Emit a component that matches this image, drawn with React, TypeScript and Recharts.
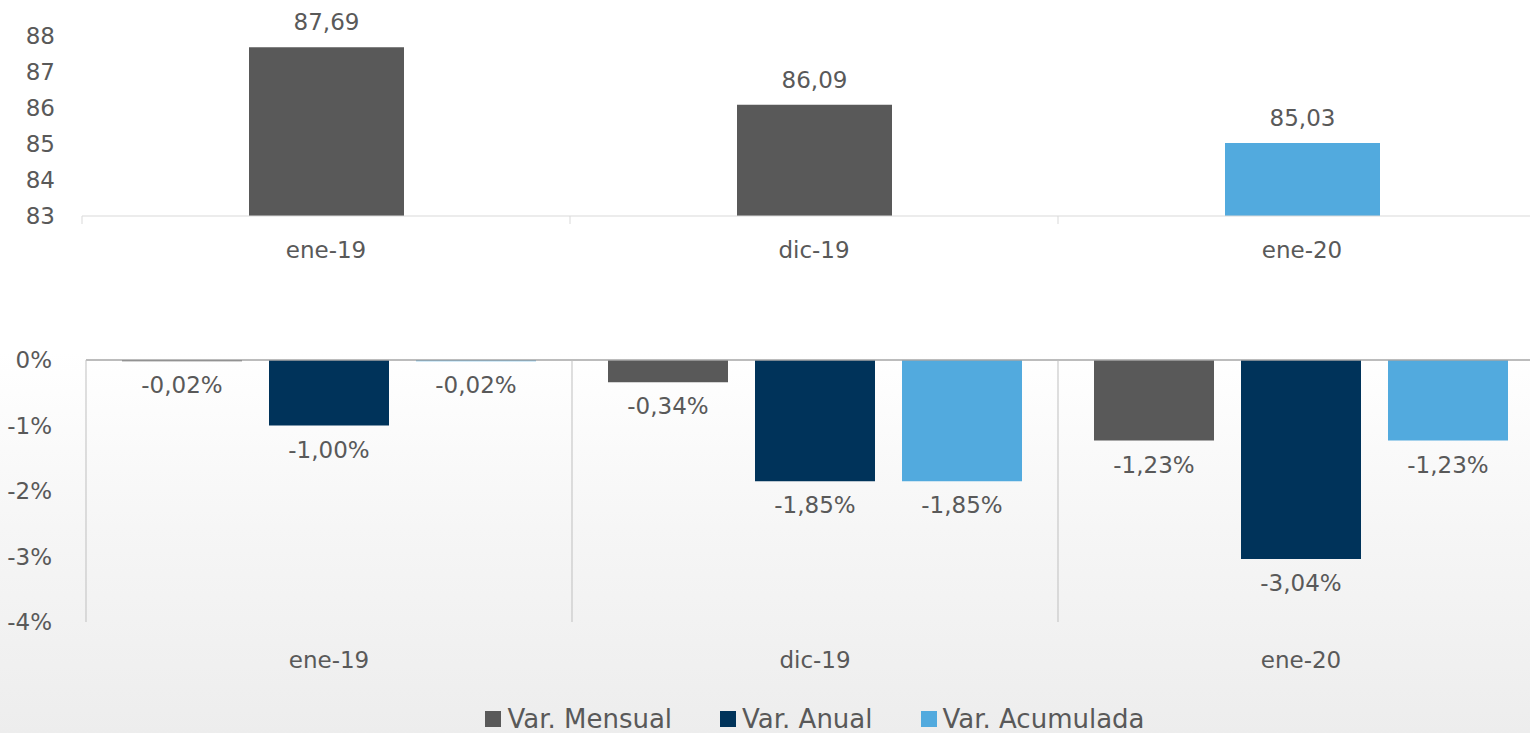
import React from "react";
import {
  BarChart,
  Bar,
  XAxis,
  YAxis,
  Cell,
  LabelList,
  Legend,
  ReferenceLine,
} from "recharts";

const months = ["ene-19", "dic-19", "ene-20"];
const indexValues = [87.69, 86.09, 85.03];
const indexTicks = [83, 84, 85, 86, 87, 88];

const varMensual = [-0.02, -0.34, -1.23];
const varAnual = [-1.0, -1.85, -3.04];
const varAcumulada = [-0.02, -1.85, -1.23];
const pctTicks = [0, -1, -2, -3, -4];

const GRAY = "#595959";
const NAVY = "#00335A";
const LIGHT = "#52AADE";
const TEXT = "#595959";
const FONT = "'DejaVu Sans', sans-serif";
const FS = 23;

const indexColors = [GRAY, GRAY, LIGHT];

const topData = months.map((m, i) => ({ month: m, value: indexValues[i] }));
const bottomData = months.map((m, i) => ({
  month: m,
  mensual: varMensual[i],
  anual: varAnual[i],
  acumulada: varAcumulada[i],
}));

const series = [
  { key: "mensual", name: "Var. Mensual", color: GRAY },
  { key: "anual", name: "Var. Anual", color: NAVY },
  { key: "acumulada", name: "Var. Acumulada", color: LIGHT },
];

const fmt = (v: number, digits: number) => v.toFixed(digits).replace(".", ",");

// chart sizes
const CHART_W = 1560;
const TOP_H = 280;
const TOP_MARGIN = { top: 36, right: 14, left: 0, bottom: 24 };
const TOP_HALF = (CHART_W - 82 - TOP_MARGIN.right) / months.length / 2;

const BOT_H = 453;
const BOT_MARGIN = { top: 80, right: 16, left: 0, bottom: 61 };
const BOT_PLOT_H = BOT_H - BOT_MARGIN.top - BOT_MARGIN.bottom - 50;
const BOT_HALF = (CHART_W - 86 - BOT_MARGIN.right) / months.length / 2;

function TopTick(props: any) {
  const { x, y, payload, index } = props;
  return (
    <g>
      <line x1={x - TOP_HALF} x2={x - TOP_HALF} y1={y} y2={y + 8} stroke="#d9d9d9" />
      {index === months.length - 1 && (
        <line x1={x + TOP_HALF} x2={x + TOP_HALF} y1={y} y2={y + 8} stroke="#d9d9d9" />
      )}
      <text x={x} y={y + 34} textAnchor="middle" dominantBaseline="central" fill={TEXT} fontSize={FS} fontFamily={FONT}>
        {payload.value}
      </text>
    </g>
  );
}

function BottomTick(props: any) {
  const { x, y, payload, index } = props;
  return (
    <g>
      <line x1={x - BOT_HALF} x2={x - BOT_HALF} y1={y - BOT_PLOT_H} y2={y} stroke="#bfbfbf" />
      {index === months.length - 1 && (
        <line x1={x + BOT_HALF} x2={x + BOT_HALF} y1={y - BOT_PLOT_H} y2={y} stroke="#bfbfbf" />
      )}
      <text x={x} y={y + 38} textAnchor="middle" dominantBaseline="central" fill={TEXT} fontSize={FS} fontFamily={FONT}>
        {payload.value}
      </text>
    </g>
  );
}

function TopLabel(props: any) {
  const { x, y, width, value } = props;
  return (
    <text x={x + width / 2} y={y - 25} textAnchor="middle" dominantBaseline="central" fill={TEXT} fontSize={FS} fontFamily={FONT}>
      {fmt(value, 2)}
    </text>
  );
}

function NegLabel(props: any) {
  const { x, y, width, height, value } = props;
  const end = Math.max(y, y + height);
  return (
    <text x={x + width / 2} y={end + 24} textAnchor="middle" dominantBaseline="central" fill={TEXT} fontSize={FS} fontFamily={FONT}>
      {fmt(value, 2) + "%"}
    </text>
  );
}

function LegendContent() {
  return (
    <div style={{ display: "flex", justifyContent: "center", gap: 48, fontFamily: FONT, fontSize: 26, color: TEXT }}>
      {series.map((s) => (
        <div key={s.key} style={{ display: "flex", alignItems: "center", gap: 6 }}>
          <span style={{ width: 16, height: 16, background: s.color, display: "inline-block" }} />
          <span>{s.name}</span>
        </div>
      ))}
    </div>
  );
}

export default function App() {
  return (
    <div
      style={{
        position: "fixed",
        left: 0,
        top: 0,
        width: 1530,
        height: 733,
        overflow: "hidden",
        background: "linear-gradient(to bottom, #ffffff 0%, #ffffff 48%, #f6f6f6 72%, #ededed 100%)",
      }}
    >
      <div style={{ position: "absolute", left: 0, top: 0 }}>
        <BarChart width={CHART_W} height={TOP_H} data={topData} margin={TOP_MARGIN}>
          <XAxis
            dataKey="month"
            height={40}
            tickSize={0}
            tickMargin={0}
            axisLine={{ stroke: "#d9d9d9" }}
            tickLine={false}
            tick={<TopTick />}
            interval={0}
          />
          <YAxis
            width={82}
            domain={[83, 88]}
            ticks={indexTicks}
            axisLine={false}
            tickLine={false}
            tickSize={0}
            tickMargin={27}
            tick={{ fill: TEXT, fontSize: FS, fontFamily: FONT }}
          />
          <Bar dataKey="value" barSize={155} isAnimationActive={false}>
            {topData.map((d, i) => (
              <Cell key={d.month} fill={indexColors[i]} />
            ))}
            <LabelList dataKey="value" content={<TopLabel />} />
          </Bar>
        </BarChart>
      </div>
      <div style={{ position: "absolute", left: 0, top: TOP_H }}>
        <BarChart width={CHART_W} height={BOT_H} data={bottomData} margin={BOT_MARGIN} barGap={27}>
          <XAxis
            dataKey="month"
            height={50}
            tickSize={0}
            tickMargin={0}
            axisLine={false}
            tickLine={false}
            tick={<BottomTick />}
            interval={0}
          />
          <YAxis
            width={86}
            domain={[-4, 0]}
            ticks={pctTicks}
            axisLine={false}
            tickLine={false}
            tickSize={0}
            tickMargin={34}
            tickFormatter={(v: number) => `${v}%`}
            tick={{ fill: TEXT, fontSize: FS, fontFamily: FONT }}
          />
          <ReferenceLine y={0} stroke="#a6a6a6" strokeWidth={1.5} />
          {series.map((s) => (
            <Bar key={s.key} dataKey={s.key} name={s.name} fill={s.color} barSize={120} isAnimationActive={false}>
              <LabelList dataKey={s.key} content={<NegLabel />} />
            </Bar>
          ))}
          <Legend
            layout="horizontal"
            verticalAlign="middle"
            align="center"
            content={<LegendContent />}
            wrapperStyle={{ top: 424, left: 0, width: 1630, height: 36 }}
          />
        </BarChart>
      </div>
    </div>
  );
}
